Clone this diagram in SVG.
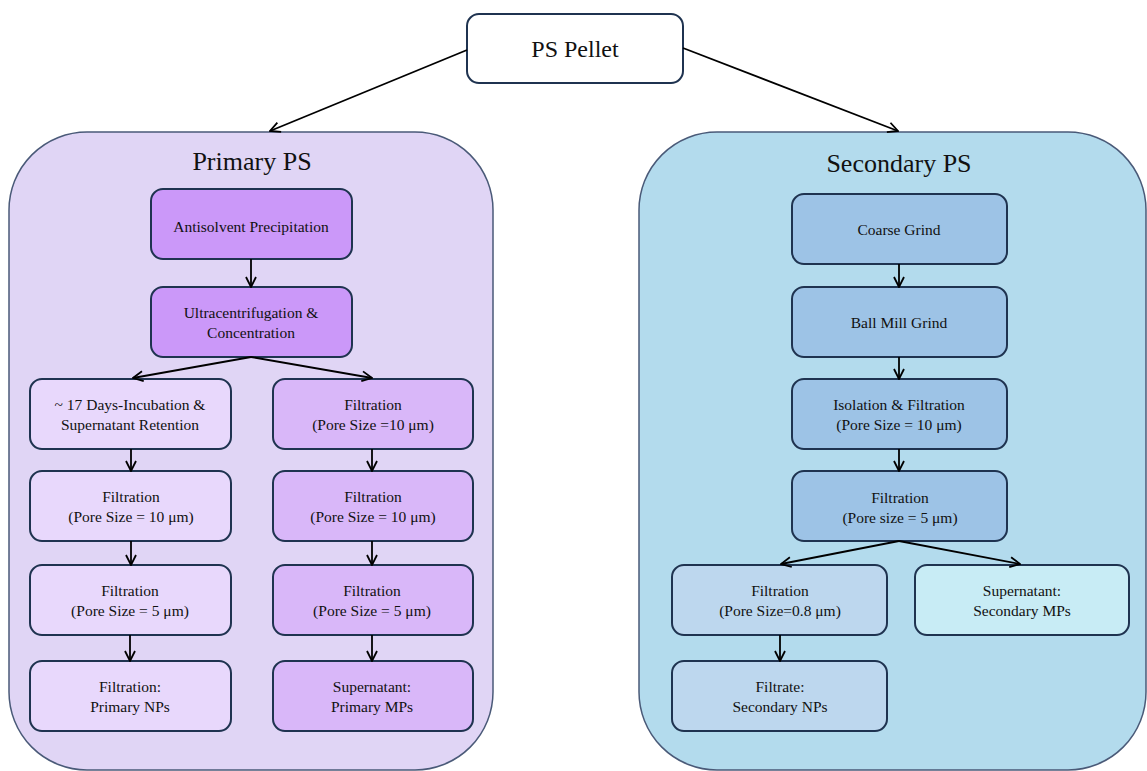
<svg xmlns="http://www.w3.org/2000/svg" width="1147" height="771" viewBox="0 0 1147 771">
<defs>
<marker id="arr" viewBox="0 0 12 12" refX="11" refY="6" markerWidth="12" markerHeight="12" markerUnits="userSpaceOnUse" orient="auto">
<path d="M1,1 L11,6 L1,11" fill="none" stroke="#000" stroke-width="1.8"/>
</marker>
<style>
.box{stroke:#1f3350;stroke-width:2}
.cont{stroke:#4a5a78;stroke-width:1.5}
.t{font-family:"Liberation Serif","Times New Roman",serif;font-size:15.5px;fill:#111;text-anchor:middle;dominant-baseline:central}
.title{font-family:"Liberation Serif","Times New Roman",serif;font-size:26px;fill:#111;text-anchor:middle}
.conn line{stroke:#000;stroke-width:1.8;fill:none;marker-end:url(#arr)}
.pA{fill:#cb98f9}
.pL{fill:#e8d8fc}
.pR{fill:#d9b7f9}
.sB{fill:#9dc3e6}
.sL{fill:#bdd7ee}
.sR{fill:#c8ecf5}
</style>
</defs>
<rect width="1147" height="771" fill="#fff"/>

<g id="primary-container">
<rect class="cont" x="9" y="132" width="484" height="638" rx="78" fill="#e0d5f5"/>
<text class="title" x="252" y="170">Primary PS</text>
</g>
<g id="secondary-container">
<rect class="cont" x="639" y="132" width="507" height="638" rx="78" fill="#b3dbed"/>
<text class="title" x="899" y="172">Secondary PS</text>
</g>

<g id="ps-pellet">
<rect class="box" x="467" y="14" width="216" height="69" rx="12" fill="#fff"/>
<text class="t" x="575" y="49" style="font-size:24px">PS Pellet</text>
</g>

<g id="antisolvent">
<rect class="box pA" x="151" y="189" width="201" height="70" rx="12"/>
<text class="t" x="251" y="226">Antisolvent Precipitation</text>
</g>
<g id="ultracentrifugation">
<rect class="box pA" x="151" y="287" width="201" height="70" rx="12"/>
<text class="t" x="251" y="312">Ultracentrifugation &amp;</text>
<text class="t" x="251" y="332">Concentration</text>
</g>

<g id="incubation">
<rect class="box pL" x="30" y="379" width="201" height="70" rx="12"/>
<text class="t" x="130" y="404">~ 17 Days-Incubation &amp;</text>
<text class="t" x="130" y="424">Supernatant Retention</text>
</g>
<g id="pl-filt10">
<rect class="box pL" x="30" y="471" width="201" height="70" rx="12"/>
<text class="t" x="131" y="496">Filtration</text>
<text class="t" x="131" y="516">(Pore Size = 10 μm)</text>
</g>
<g id="pl-filt5">
<rect class="box pL" x="30" y="565" width="201" height="70" rx="12"/>
<text class="t" x="130" y="590">Filtration</text>
<text class="t" x="130" y="610">(Pore Size = 5 μm)</text>
</g>
<g id="primary-nps">
<rect class="box pL" x="30" y="661" width="201" height="70" rx="12"/>
<text class="t" x="130" y="686">Filtration:</text>
<text class="t" x="130" y="706">Primary NPs</text>
</g>

<g id="pr-filt10a">
<rect class="box pR" x="273" y="379" width="200" height="70" rx="12"/>
<text class="t" x="373" y="404">Filtration</text>
<text class="t" x="373" y="424">(Pore Size =10 μm)</text>
</g>
<g id="pr-filt10b">
<rect class="box pR" x="273" y="471" width="200" height="70" rx="12"/>
<text class="t" x="373" y="496">Filtration</text>
<text class="t" x="373" y="516">(Pore Size = 10 μm)</text>
</g>
<g id="pr-filt5">
<rect class="box pR" x="273" y="565" width="200" height="70" rx="12"/>
<text class="t" x="372" y="590">Filtration</text>
<text class="t" x="372" y="610">(Pore Size = 5 μm)</text>
</g>
<g id="primary-mps">
<rect class="box pR" x="273" y="661" width="200" height="70" rx="12"/>
<text class="t" x="372" y="686">Supernatant:</text>
<text class="t" x="372" y="706">Primary MPs</text>
</g>

<g id="coarse-grind">
<rect class="box sB" x="792" y="194" width="215" height="70" rx="12"/>
<text class="t" x="899" y="229">Coarse Grind</text>
</g>
<g id="ball-mill">
<rect class="box sB" x="792" y="287" width="215" height="70" rx="12"/>
<text class="t" x="899" y="322">Ball Mill Grind</text>
</g>
<g id="isolation">
<rect class="box sB" x="792" y="379" width="215" height="70" rx="12"/>
<text class="t" x="899" y="404">Isolation &amp; Filtration</text>
<text class="t" x="899" y="424">(Pore Size = 10 μm)</text>
</g>
<g id="s-filt5">
<rect class="box sB" x="792" y="471" width="215" height="70" rx="12"/>
<text class="t" x="900" y="497">Filtration</text>
<text class="t" x="900" y="517">(Pore size = 5 μm)</text>
</g>
<g id="s-filt08">
<rect class="box sL" x="672" y="565" width="215" height="70" rx="12"/>
<text class="t" x="780" y="590">Filtration</text>
<text class="t" x="780" y="610">(Pore Size=0.8  μm)</text>
</g>
<g id="secondary-mps">
<rect class="box sR" x="915" y="565" width="214" height="70" rx="12"/>
<text class="t" x="1022" y="590">Supernatant:</text>
<text class="t" x="1022" y="610">Secondary MPs</text>
</g>
<g id="secondary-nps">
<rect class="box sL" x="672" y="661" width="215" height="70" rx="12"/>
<text class="t" x="780" y="686">Filtrate:</text>
<text class="t" x="780" y="706">Secondary NPs</text>
</g>

<g id="connectors" class="conn">
<line x1="467" y1="50" x2="270" y2="131"/>
<line x1="683" y1="48" x2="898" y2="131"/>
<line x1="251" y1="259" x2="251" y2="287"/>
<line x1="251" y1="357" x2="133" y2="378"/>
<line x1="251" y1="357" x2="372" y2="378"/>
<line x1="131" y1="449" x2="131" y2="471"/>
<line x1="131" y1="541" x2="131" y2="565"/>
<line x1="130" y1="635" x2="130" y2="661"/>
<line x1="372" y1="449" x2="372" y2="471"/>
<line x1="372" y1="541" x2="372" y2="565"/>
<line x1="372" y1="635" x2="372" y2="661"/>
<line x1="899" y1="264" x2="899" y2="287"/>
<line x1="899" y1="357" x2="899" y2="379"/>
<line x1="899" y1="449" x2="899" y2="471"/>
<line x1="899" y1="541" x2="781" y2="564"/>
<line x1="899" y1="541" x2="1020" y2="564"/>
<line x1="780" y1="635" x2="780" y2="661"/>
</g>
</svg>
